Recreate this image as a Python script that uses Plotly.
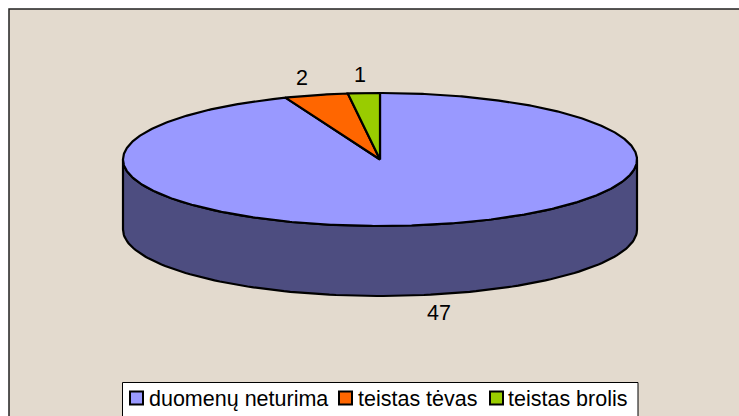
import numpy as np
import plotly.graph_objects as go

# ---- data ----
categories = ["duomenų neturima", "teistas tėvas", "teistas brolis"]
values = [47, 2, 1]
top_colors = ["#9999FF", "#FF6600", "#99CC00"]
side_colors = ["#4D4D80", "#803300", "#4D6600"]

# ---- geometry (layout constants, pixels) ----
W, H = 739, 416
CX, CY = 380, 159.5
A, B = 257, 66.5
DEPTH = 70
FONT = "Liberation Sans, Arial, sans-serif"
FS = 21.5


def pt(theta_deg, dy=0.0):
    t = np.radians(theta_deg)
    return CX + A * np.sin(t), CY - B * np.cos(t) + dy


total = float(sum(values))
angles = np.cumsum([0] + [v / total * 360.0 for v in values])

fig = go.Figure()

# front side walls (visible for angles in [90, 270])
for i in range(len(values)):
    s, e = max(angles[i], 90.0), min(angles[i + 1], 270.0)
    if e <= s:
        continue
    th = np.linspace(s, e, 120)
    xt, yt = pt(th)
    xb, yb = pt(th[::-1], DEPTH)
    xs = np.concatenate([xt, xb, xt[:1]])
    ys = np.concatenate([yt, yb, yt[:1]])
    fig.add_trace(go.Scatter(x=xs, y=ys, mode="lines", fill="toself",
                             fillcolor=side_colors[i],
                             line=dict(color="black", width=2.2),
                             hoverinfo="skip", showlegend=False))

# top slices
for i in range(len(values)):
    n = max(int((angles[i + 1] - angles[i]) * 2), 8)
    th = np.linspace(angles[i], angles[i + 1], n)
    xa, ya = pt(th)
    xs = np.concatenate([[CX], xa, [CX]])
    ys = np.concatenate([[CY], ya, [CY]])
    fig.add_trace(go.Scatter(x=xs, y=ys, mode="lines", fill="toself",
                             fillcolor=top_colors[i],
                             line=dict(color="black", width=2.2),
                             name=categories[i], hoverinfo="skip",
                             showlegend=False))

annotations = []
# value labels
for i, v in enumerate(values):
    mid = (angles[i] + angles[i + 1]) / 2.0
    t = np.radians(mid)
    lx = CX + 1.22 * A * np.sin(t)
    ly = CY - (B + 18) * np.cos(t) + (DEPTH if np.cos(t) < 0 else 0)
    annotations.append(dict(x=lx, y=ly, xref="x", yref="y", text=str(v),
                            showarrow=False, xanchor="center", yanchor="middle",
                            font=dict(family=FONT, size=FS, color="black")))

# legend (manual)
leg_sq_x = [130, 339, 490]
leg_txt_x = [147, 356, 506]
leg_y = 398
shapes = [
    dict(type="rect", xref="x", yref="y", x0=9, y0=9, x1=760, y1=430,
         fillcolor="#E3DACE", line=dict(color="#222222", width=1.5), layer="below"),
    dict(type="rect", xref="x", yref="y", x0=122.5, y0=382.5, x1=638, y1=430,
         fillcolor="white", line=dict(color="black", width=1), layer="below"),
]
for i in range(len(categories)):
    shapes.append(dict(type="rect", xref="x", yref="y",
                       x0=leg_sq_x[i], y0=leg_y - 6.5, x1=leg_sq_x[i] + 13, y1=leg_y + 6.5,
                       fillcolor=top_colors[i], line=dict(color="black", width=2)))
    annotations.append(dict(x=leg_txt_x[i], y=leg_y + 1, xref="x", yref="y",
                            text=categories[i], showarrow=False,
                            xanchor="left", yanchor="middle",
                            font=dict(family=FONT, size=FS, color="black")))

fig.update_layout(
    width=W, height=H, autosize=False,
    margin=dict(l=0, r=0, t=0, b=0, pad=0),
    paper_bgcolor="white", plot_bgcolor="rgba(0,0,0,0)",
    xaxis=dict(range=[0, W], visible=False, fixedrange=True),
    yaxis=dict(range=[H, 0], visible=False, fixedrange=True),
    shapes=shapes, annotations=annotations, showlegend=False,
)

fig.write_html(
    "out.html",
    config={"displayModeBar": False},
    post_script="document.body.style.margin='0';document.body.style.overflow='hidden';",
)
